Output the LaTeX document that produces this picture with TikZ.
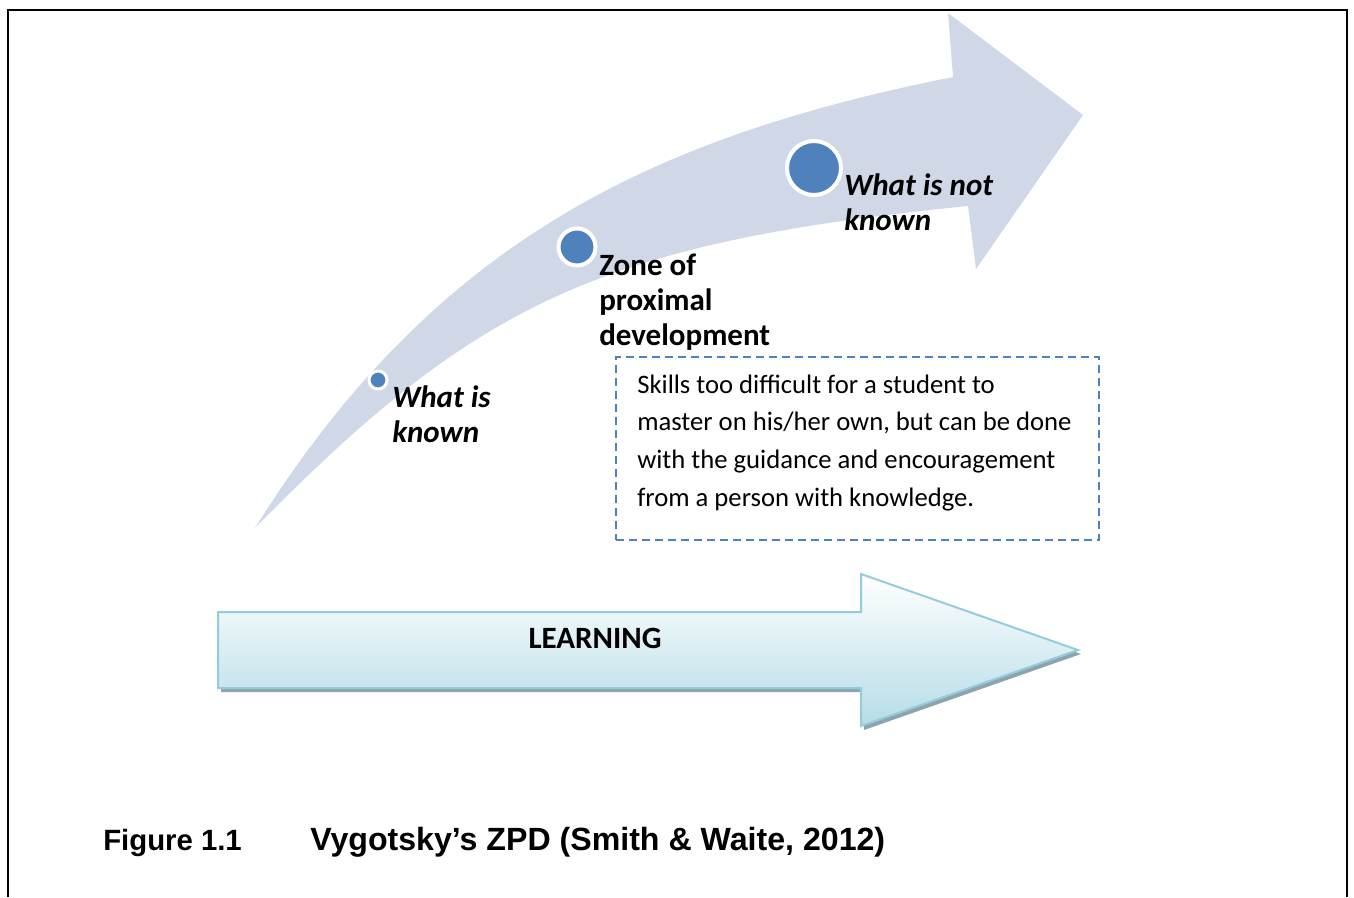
\documentclass[tikz,border=0pt]{standalone}
\usepackage{fontspec}
\setmainfont{Carlito}
\newfontfamily\capfont{Liberation Sans}
\definecolor{bandfill}{HTML}{D0D8E8}
\definecolor{dotblue}{HTML}{4F81BD}
\definecolor{arrowedge}{HTML}{93CDDD}
\definecolor{arrowbottom}{HTML}{B5DCE7}
\definecolor{shadowgray}{HTML}{8FA3AD}
\tikzset{
  dotnode/.style={circle, fill=dotblue, draw=white, inner sep=0pt},
  labeltext/.style={anchor=base west, inner sep=0pt, font={\bfseries\fontsize{23.25}{26.25}\selectfont}},
  boxtext/.style={anchor=base west, inner sep=0pt, font={\fontsize{20}{28.3}\selectfont}},
  captext/.style={anchor=base west, inner sep=0pt, font={\capfont\bfseries\fontsize{23}{27}\selectfont}}
}
\begin{document}
\begin{tikzpicture}[x=0.75pt,y=-0.75pt]
\useasboundingbox (0,0) rectangle (1354,897);
% frame
\draw[line width=1.9pt] (8,897) -- (8,10) -- (1347,10) -- (1347,897);
% curved band arrow
\fill[bandfill] (255,528) .. controls (435,240) and (653,137) .. (953,77)
  -- (948,13) -- (1083,115) -- (976,269) -- (968,206)
  .. controls (598,243) and (475,304) .. (255,528) -- cycle;
% dots
\node[dotnode, minimum size=13.5pt, line width=2.25pt] (known) at (378,380) {};
\node[dotnode, minimum size=27.75pt, line width=3pt] (zpd) at (577,247) {};
\node[dotnode, minimum size=40.5pt, line width=3pt] (notknown) at (814,168) {};
% labels
\node[labeltext, font={\bfseries\itshape\fontsize{23.25}{26.25}\selectfont}] (knowntext) at (392,407) {\begin{tabular}[t]{@{}l@{}}What is\\known\end{tabular}};
\node[labeltext] (zpdtext) at (599,275) {\begin{tabular}[t]{@{}l@{}}Zone of\\proximal\\development\end{tabular}};
\node[labeltext, font={\bfseries\itshape\fontsize{23.25}{26.25}\selectfont}] (notknowntext) at (844,195) {\begin{tabular}[t]{@{}l@{}}What is not\\known\end{tabular}};
% dashed box
\node[draw=dotblue, dash pattern=on 6pt off 3.75pt, line width=1.5pt, minimum width=362.25pt, minimum height=137.25pt, inner sep=0pt] (zpdbox) at (857.5,448.5) {};
\node[boxtext] (boxtext) at (637,393) {\begin{tabular}[t]{@{}l@{}}Skills too difficult for a student to\\master on his/her own, but can be done\\with the guidance and encouragement\\from a person with knowledge.\end{tabular}};
% learning arrow
\fill[shadowgray] ([xshift=2.25pt,yshift=-3pt]218,612) -- ++(643,0) -- ++(0,-38) -- ++(217,76) -- ++(-217,76) -- ++(0,-38) -- ++(-643,0) -- cycle;
\shadedraw[top color=white, bottom color=arrowbottom, draw=arrowedge, line width=1.5pt, line join=miter] (218,612) -- (861,612) -- (861,574) -- (1078,650) -- (861,726) -- (861,688) -- (218,688) -- cycle;
\node[anchor=base, inner sep=0pt, font={\bfseries\fontsize{23.25}{27}\selectfont}] (learning) at (595,648) {LEARNING};
% caption
\node[captext, font={\capfont\bfseries\fontsize{22}{27}\selectfont}] (fignum) at (103,850) {Figure 1.1};
\node[captext, font={\capfont\bfseries\fontsize{24.1}{27}\selectfont}] (figtitle) at (310,850) {Vygotsky’s ZPD (Smith \& Waite, 2012)};
\end{tikzpicture}
\end{document}
